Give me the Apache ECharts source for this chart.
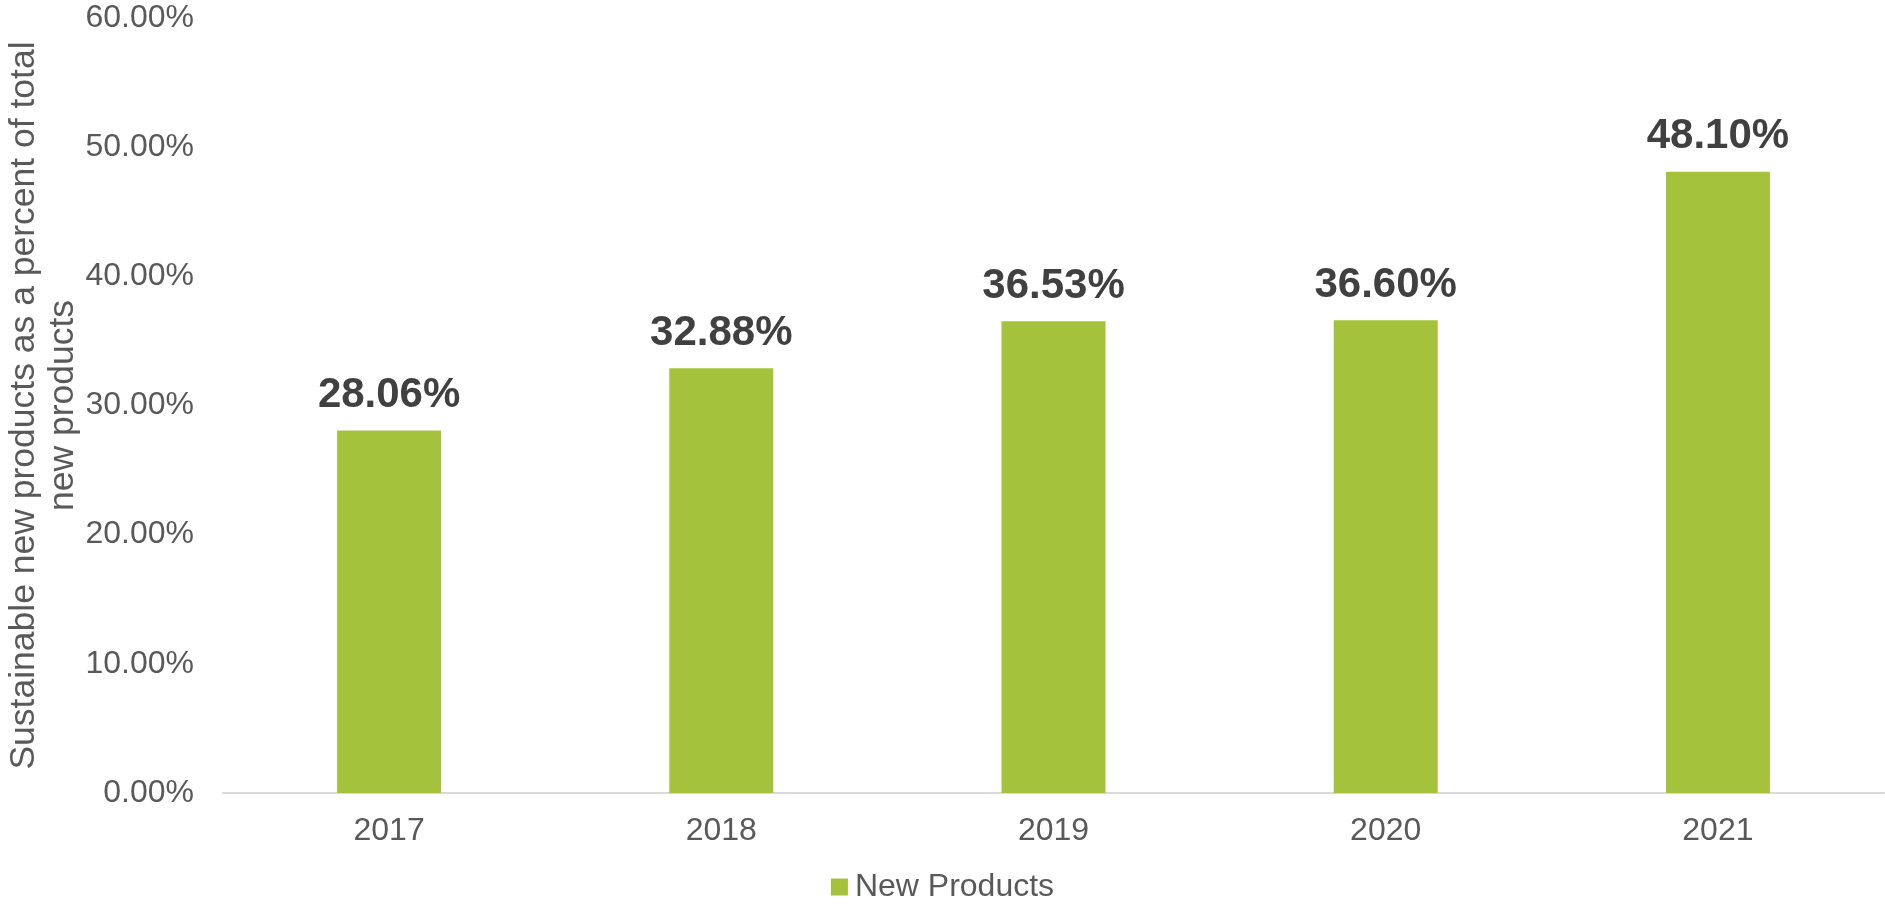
<!DOCTYPE html>
<html>
<head>
<meta charset="utf-8">
<script src="https://cdn.jsdelivr.net/npm/echarts@6/dist/echarts.min.js"></script>
<style>
  html, body { margin: 0; padding: 0; background: #ffffff; }
  #chart { width: 1885px; height: 908px; }
</style>
</head>
<body>
<div id="chart"></div>
<script>
// Share of sustainable new products, by year
const years = ['2017', '2018', '2019', '2020', '2021'];
const newProducts = [28.06, 32.88, 36.53, 36.60, 48.10];
const yTicks = [0, 10, 20, 30, 40, 50, 60];

const FONT = 'Liberation Sans, Arial, sans-serif';
const GREY = '#595959';

const chart = echarts.init(document.getElementById('chart'));
chart.setOption({
  animation: false,
  textStyle: { fontFamily: FONT },
  grid: { left: 223, right: 1, top: 18, bottom: 115, containLabel: false, outerBoundsMode: 'none' },
  legend: {
    bottom: 0,
    left: 'center',
    itemWidth: 17,
    itemHeight: 17,
    itemGap: 6,
    icon: 'rect',
    textStyle: { fontSize: 32, color: GREY, fontFamily: FONT, padding: [0, 0, 0, 2] },
    data: ['New Products']
  },
  xAxis: {
    type: 'category',
    data: years,
    axisLine: { show: true, lineStyle: { color: '#D9D9D9', width: 2 } },
    axisTick: { show: false },
    axisLabel: { fontSize: 32, color: GREY, margin: 22, fontFamily: FONT }
  },
  yAxis: {
    type: 'value',
    min: yTicks[0],
    max: yTicks[yTicks.length - 1],
    interval: 10,
    splitLine: { show: false },
    axisLine: { show: false },
    axisTick: { show: false },
    axisLabel: {
      fontSize: 32,
      color: GREY,
      margin: 29,
      fontFamily: FONT,
      formatter: v => v.toFixed(2) + '%'
    },
    name: 'Sustainable new products as a percent of total\nnew products',
    nameLocation: 'middle',
    nameRotate: 90,
    nameGap: 140,
    nameMoveOverlap: false,
    nameTextStyle: { fontSize: 35.5, color: GREY, lineHeight: 39, fontFamily: FONT, align: 'center' }
  },
  series: [{
    name: 'New Products',
    type: 'bar',
    data: newProducts,
    barWidth: 104,
    itemStyle: { color: '#A5C23C' },
    label: {
      show: true,
      position: 'top',
      distance: 14,
      fontSize: 42,
      fontWeight: 'bold',
      color: '#404040',
      fontFamily: FONT,
      formatter: p => p.value.toFixed(2) + '%'
    }
  }]
});
</script>
</body>
</html>
